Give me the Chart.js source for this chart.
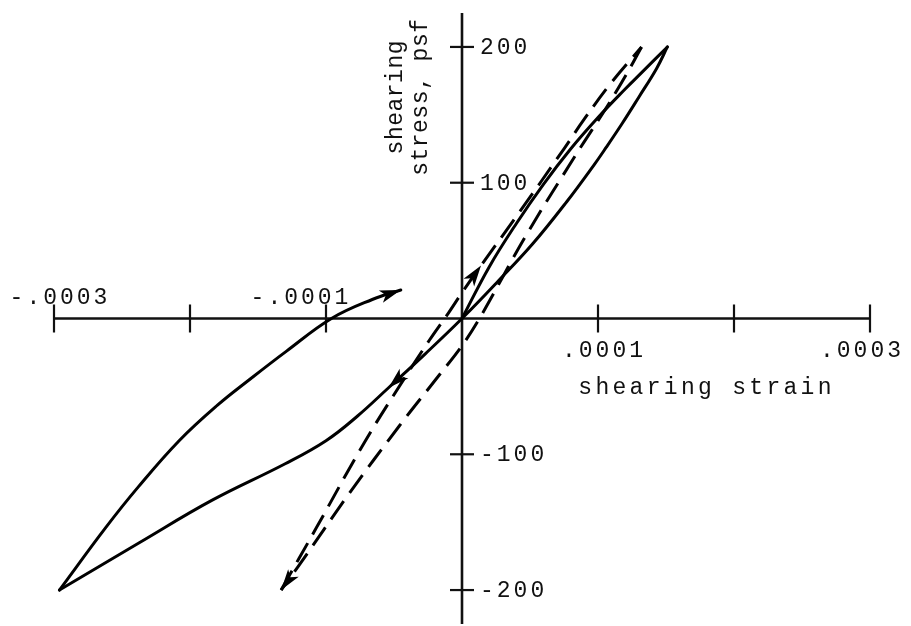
<!DOCTYPE html>
<html>
<head>
<meta charset="utf-8">
<script src="https://cdn.jsdelivr.net/npm/chart.js@4/dist/chart.umd.min.js"></script>
<style>
  html, body { margin: 0; padding: 0; background: #ffffff; }
  #plot { display: block; }
</style>
</head>
<body>
<canvas id="plot" width="911" height="626"></canvas>
<script>
// Axis ticks and labels
const strainTicks = [-0.0003, -0.0002, -0.0001, 0.0001, 0.0002, 0.0003];
const stressTicks = [200, 100, -100, -200];
const strainLabelValues = [-0.0003, -0.0001, 0.0001, 0.0003];
const strainLabels = ['-.0003', '-.0001', '.0001', '.0003'];
const stressLabelValues = [200, 100, -100, -200];
const stressLabels = ['200', '100', '-100', '-200'];
const strainTitle = 'shearing strain';
const stressTitle = ['shearing', 'stress, psf'];

// Solid cycle: first loading from rest up to +200 psf
const firstLoadStrain = [0, 0.00002, 0.00004, 0.00006, 0.00008, 0.0001, 0.00012, 0.000133, 0.000151];
const firstLoadStress = [0, 38, 70, 99, 125, 148, 169, 182, 200];

// Solid cycle: unloading from +200 to -200 psf
const unloadStrain = [0.000151, 0.000143, 0.00013, 0.000118, 0.000106, 0.000097, 0.000077, 0.000052, 0.000027, 0,
                      -0.000027, -0.000054, -0.000077, -0.0001, -0.00013, -0.000184, -0.000237, -0.000296];
const unloadStress = [200, 184, 163, 144, 126, 113, 86, 55, 28, 0,
                      -26, -51, -72, -90, -107, -134, -165, -200];

// Solid cycle: reloading from -200 psf
const reloadStrain = [-0.000296, -0.000262, -0.000238, -0.000208, -0.00018, -0.000155, -0.000129, -0.000096, -0.000066, -0.000045];
const reloadStress = [-200, -154, -124, -90, -64, -44, -24, 0, 14, 21];

// Dashed cycle: loading from -200 to +200 psf
const dashUpStrain = [-0.000133, -0.000107, -0.000071, -0.000041, -0.000024, -0.00001, 0, 0.000014, 0.000042, 0.000075, 0.00009, 0.00011, 0.000132];
const dashUpStress = [-200, -154, -90, -42, -16, 4, 19, 39, 78, 125, 147, 174, 200];

// Dashed cycle: unloading from +200 to -200 psf
const dashDownStrain = [0.000132, 0.000121, 0.000106, 0.000095, 0.000084, 0.000047, 0.000014, 0, -0.000017, -0.000046, -0.000083, -0.00012, -0.000133];
const dashDownStress = [200, 180, 155, 138, 121, 61, 2, -20, -42, -79, -129, -182, -200];

function pairs(xs, ys) {
  return xs.map((x, i) => ({ x: x, y: ys[i] }));
}

const FONT = '23px "Liberation Mono", "DejaVu Sans Mono", monospace';
const INK = '#111111';

// Draws the crossing axes, tick marks and typewriter-style labels
const crossAxes = {
  id: 'crossAxes',
  beforeDatasetsDraw(chart) {
    const { ctx, chartArea, scales: { x, y } } = chart;
    const x0 = x.getPixelForValue(0);
    const y0 = y.getPixelForValue(0);
    ctx.save();
    ctx.strokeStyle = INK;
    ctx.lineCap = 'butt';

    // vertical axis
    ctx.lineWidth = 2.6;
    ctx.beginPath();
    ctx.moveTo(x0, chartArea.top);
    ctx.lineTo(x0, chartArea.bottom);
    ctx.stroke();

    // horizontal axis
    ctx.beginPath();
    ctx.moveTo(x.getPixelForValue(-0.0003), y0);
    ctx.lineTo(x.getPixelForValue(0.0003), y0);
    ctx.stroke();

    // tick marks
    ctx.lineWidth = 2.2;
    strainTicks.forEach(v => {
      const px = x.getPixelForValue(v);
      ctx.beginPath();
      ctx.moveTo(px, y0 - 14);
      ctx.lineTo(px, y0 + 14);
      ctx.stroke();
    });
    stressTicks.forEach(v => {
      const py = y.getPixelForValue(v);
      ctx.beginPath();
      ctx.moveTo(x0 - 12, py);
      ctx.lineTo(x0 + 12, py);
      ctx.stroke();
    });

    // labels
    ctx.fillStyle = INK;
    ctx.font = FONT;
    ctx.letterSpacing = '3px';
    ctx.textBaseline = 'alphabetic';
    ctx.textAlign = 'center';
    const strainShift = [6, -25, 6, -8];
    strainLabelValues.forEach((v, i) => {
      const px = x.getPixelForValue(v) + strainShift[i];
      const above = v < 0;
      ctx.fillText(strainLabels[i], px, above ? y0 - 15 : y0 + 38);
    });

    ctx.textAlign = 'left';
    ctx.textBaseline = 'middle';
    stressLabelValues.forEach((v, i) => {
      ctx.fillText(stressLabels[i], x0 + 18, y.getPixelForValue(v) + 1);
    });

    // axis titles
    ctx.textBaseline = 'alphabetic';
    ctx.textAlign = 'left';
    ctx.letterSpacing = '3.3px';
    ctx.fillText(strainTitle, x.getPixelForValue(0.0000855), y0 + 75);

    ctx.letterSpacing = '0.5px';
    ctx.textAlign = 'center';
    ctx.save();
    ctx.translate(x0 - 60, y.getPixelForValue(163));
    ctx.rotate(-Math.PI / 2);
    ctx.fillText(stressTitle[0], 0, 0);
    ctx.fillText(stressTitle[1], 0, 25);
    ctx.restore();

    ctx.restore();
  }
};

// Filled arrowheads placed on data points of a dataset
const arrowHeads = {
  id: 'arrowHeads',
  afterDatasetsDraw(chart) {
    const { ctx } = chart;
    chart.data.datasets.forEach((ds, di) => {
      if (!ds.arrowAt) return;
      const pts = chart.getDatasetMeta(di).data;
      ds.arrowAt.forEach(idx => {
        const p = pts[idx];
        const q = pts[idx - 1];
        let dx = p.x - (p.cp1x !== undefined ? p.cp1x : q.x);
        let dy = p.y - (p.cp1y !== undefined ? p.cp1y : q.y);
        if (Math.hypot(dx, dy) < 0.5) { dx = p.x - q.x; dy = p.y - q.y; }
        const len = Math.hypot(dx, dy);
        const ux = dx / len, uy = dy / len;
        const L = 21, W = 6.5;
        const bx = p.x - ux * L, by = p.y - uy * L;
        ctx.save();
        ctx.fillStyle = '#000';
        ctx.beginPath();
        ctx.moveTo(p.x, p.y);
        ctx.lineTo(bx - uy * W, by + ux * W);
        ctx.lineTo(p.x - ux * L * 0.75, p.y - uy * L * 0.75);
        ctx.lineTo(bx + uy * W, by - ux * W);
        ctx.closePath();
        ctx.fill();
        ctx.restore();
      });
    });
  }
};

const solidStyle = { borderColor: '#000', borderWidth: 3, showLine: true, pointRadius: 0, tension: 0.4, fill: false, borderCapStyle: 'round', borderJoinStyle: 'round' };
const dashStyle = Object.assign({}, solidStyle, { borderDash: [22, 10], borderCapStyle: 'butt' });

new Chart(document.getElementById('plot'), {
  type: 'scatter',
  data: {
    datasets: [
      Object.assign({ label: 'first loading', data: pairs(firstLoadStrain, firstLoadStress) }, solidStyle),
      Object.assign({ label: 'unloading', data: pairs(unloadStrain, unloadStress), arrowAt: [11] }, solidStyle),
      Object.assign({ label: 'reloading', data: pairs(reloadStrain, reloadStress), arrowAt: [9] }, solidStyle),
      Object.assign({ label: 'second loading', data: pairs(dashUpStrain, dashUpStress), arrowAt: [7] }, dashStyle),
      Object.assign({ label: 'second unloading', data: pairs(dashDownStrain, dashDownStress), arrowAt: [12] }, dashStyle)
    ]
  },
  options: {
    responsive: false,
    animation: false,
    layout: { padding: { left: 54, right: 41, top: 13, bottom: 2 } },
    plugins: { legend: { display: false }, tooltip: { enabled: false } },
    scales: {
      x: { type: 'linear', min: -0.0003, max: 0.0003, display: false },
      y: { type: 'linear', min: -225, max: 225, display: false }
    }
  },
  plugins: [crossAxes, arrowHeads]
});
</script>
</body>
</html>
